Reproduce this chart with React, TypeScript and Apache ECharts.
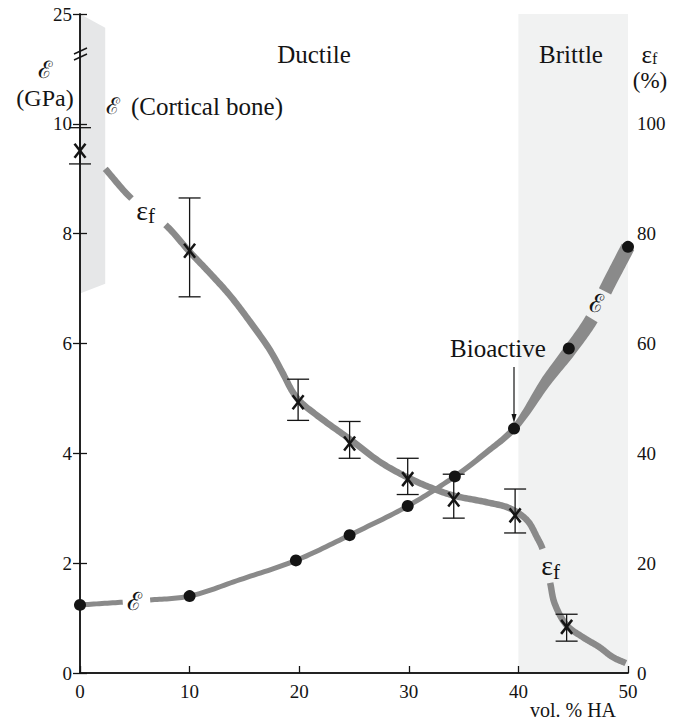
import React, { useEffect, useRef } from 'react';
import * as echarts from 'echarts';

// ---------- data ----------
// x axis: vol. % HA ; left axis: E (GPa, broken above 10 -> top shown as 25) ; right axis: eps_f (%)
const xTickLabels = ['0', '10', '20', '30', '40', '50'];
const leftTopLabel = '25';

// E measurements (GPa)
const eDotX = [0, 10, 19.7, 24.6, 29.9, 34.2, 39.6, 44.6, 50];
const eDotY = [1.24, 1.4, 2.05, 2.51, 3.04, 3.58, 4.45, 5.91, 7.76];

// eps_f measurements (%) with error bars
const efX = [0, 10, 19.9, 24.6, 29.9, 34.1, 39.7, 44.4];
const efY = [95.1, 76.9, 49.3, 41.8, 35.3, 31.6, 28.7, 8.4];
const efHi = [99.3, 86.5, 53.5, 45.8, 39.1, 36.2, 33.5, 10.7];
const efLo = [92.7, 68.5, 46.0, 39.1, 32.5, 28.2, 25.5, 5.8];

// fitted eps_f curve (traced), split where labels interrupt it
const efCurve1 = [[2.3, 91.8], [4.7, 86.4]];
const efCurve2 = [
  [7.8, 81.6], [10, 76.7], [11.9, 72.7], [13.7, 68.7], [15.5, 64.0], [17.3, 58.9],
  [18.5, 54.6], [19.4, 51.2], [20.1, 49.4], [21.9, 46.5], [24.6, 42.6], [27.4, 38.4],
  [29.9, 35.6], [32.2, 33.6], [34.1, 32.3], [37.1, 31.1], [39.2, 30.0], [40.8, 27.8],
  [41.7, 24.7], [42.2, 22.6],
];
const efCurve3 = [[42.9, 16.4], [43.3, 12.7], [44.4, 8.7], [45.9, 6.5], [47.4, 4.7], [48.6, 2.9], [49.8, 1.8]];

// fitted E curve (traced), split where labels interrupt it
const eCurve1 = [[0, 1.24], [3.9, 1.29]];
const eCurve2 = [
  [6.4, 1.33], [10, 1.4], [14.6, 1.7], [19.7, 2.05], [24.6, 2.51], [29.9, 3.04], [34.2, 3.58],
  [37.1, 4.02], [39.6, 4.45], [42.6, 5.33], [44.6, 5.85], [46.7, 6.45],
];
const eCurve3 = [[47.9, 6.95], [50, 7.76]];

// cortical bone E range (axis units, top = 25 GPa on the broken axis)
const corticalBand = [[0, 12], [2.3, 11.75], [2.3, 7.09], [0, 6.91]];
// brittle region
const brittleRange = [40, 50];

// ---------- styles ----------
const SERIF = 'Liberation Serif';
const SCRIPT = 'DejaVu Serif';
const CURVE = '#8a8a8a';
const INK = '#141414';
const E_WIDTHS = [[34.2, 5], [39.6, 6.5], [42.6, 11], [44.6, 13], [50, 14]];
const EF_WIDTHS = [[0, 6.5], [50, 6.5]];

function widthAt(table: number[][], x: number) {
  if (x <= table[0][0]) return table[0][1];
  for (let i = 0; i < table.length - 1; i++) {
    if (x <= table[i + 1][0]) {
      const t = (x - table[i][0]) / (table[i + 1][0] - table[i][0]);
      return table[i][1] + t * (table[i + 1][1] - table[i][1]);
    }
  }
  return table[table.length - 1][1];
}

// centripetal Catmull-Rom between p1 and p2 (pixel space)
function crSeg(p0: number[], p1: number[], p2: number[], p3: number[], w1: number, w2: number, n: number) {
  const d = (a: number[], b: number[]) => Math.max(Math.pow(Math.hypot(b[0] - a[0], b[1] - a[1]), 0.5), 1e-4);
  const t0 = 0, t1 = t0 + d(p0, p1), t2 = t1 + d(p1, p2), t3 = t2 + d(p2, p3);
  const lerp = (a: number[], b: number[], ta: number, tb: number, t: number) => {
    const u = (t - ta) / (tb - ta);
    return [a[0] + (b[0] - a[0]) * u, a[1] + (b[1] - a[1]) * u];
  };
  const out: number[][] = [];
  for (let s = 0; s < n; s++) {
    const t = t1 + ((t2 - t1) * s) / n;
    const A1 = lerp(p0, p1, t0, t1, t), A2 = lerp(p1, p2, t1, t2, t), A3 = lerp(p2, p3, t2, t3, t);
    const B1 = lerp(A1, A2, t0, t2, t), B2 = lerp(A2, A3, t1, t3, t);
    const C = lerp(B1, B2, t1, t2, t);
    out.push([C[0], C[1], w1 + ((w2 - w1) * s) / n]);
  }
  return out;
}

function smoothParts(px: number[][], ws: number[], ranges: number[][]) {
  const n = px.length;
  const get = (i: number) => {
    if (i < 0) return [2 * px[0][0] - px[1][0], 2 * px[0][1] - px[1][1]];
    if (i >= n) return [2 * px[n - 1][0] - px[n - 2][0], 2 * px[n - 1][1] - px[n - 2][1]];
    return px[i];
  };
  return ranges.map(([from, to]) => {
    let out: number[][] = [];
    for (let i = from; i < to; i++) out = out.concat(crSeg(get(i - 1), px[i], px[i + 1], get(i + 2), ws[i], ws[i + 1], 16));
    out.push([px[to][0], px[to][1], ws[to]]);
    return out;
  });
}

function ribbon(pts: number[][]) {
  const left: number[][] = [];
  const right: number[][] = [];
  for (let k = 0; k < pts.length; k++) {
    const a = pts[Math.max(k - 1, 0)], b = pts[Math.min(k + 1, pts.length - 1)];
    let dx = b[0] - a[0], dy = b[1] - a[1];
    const len = Math.hypot(dx, dy) || 1;
    dx /= len; dy /= len;
    const nx = -dy, ny = dx, h = pts[k][2] / 2;
    left.push([pts[k][0] + nx * h, pts[k][1] + ny * h]);
    right.push([pts[k][0] - nx * h, pts[k][1] - ny * h]);
  }
  return left.concat(right.reverse());
}

function curveSeries(parts: number[][][], yAxisIndex: number, widths: number[][]) {
  return {
    type: 'custom', silent: true, yAxisIndex,
    data: [parts[0][0]],
    renderItem: (_p: any, api: any) => {
      const all: number[][] = [];
      const ranges: number[][] = [];
      parts.forEach((part) => {
        ranges.push([all.length, all.length + part.length - 1]);
        part.forEach((p) => all.push(p));
      });
      const px = all.map((p) => api.coord(p));
      const ws = all.map((p) => widthAt(widths, p[0]));
      return {
        type: 'group',
        children: smoothParts(px, ws, ranges).map((pts) => ({
          type: 'polygon',
          shape: { points: ribbon(pts) },
          style: { fill: CURVE },
        })),
      };
    },
  };
}

export default function App() {
  const ref = useRef<HTMLDivElement>(null);

  useEffect(() => {
    if (!ref.current) return;
    const chart = echarts.init(ref.current, undefined, { renderer: 'svg' });

    const axisLabel = { fontFamily: SERIF, fontSize: 19, color: INK };
    const txt = (x: number, y: number, text: string, size: number, family = SERIF, align = 'center') => ({
      type: 'text', x, y, z: 100,
      style: { text, fontFamily: family, fontSize: size, fill: INK, align, verticalAlign: 'middle' },
    });

    const option: any = {
      animation: false,
      textStyle: { fontFamily: SERIF },
      grid: { left: 80, right: 51, top: 14, bottom: 48 },
      xAxis: [
        {
          type: 'value', min: 0, max: 50, interval: 10, z: 6,
          axisLine: { show: true, lineStyle: { color: INK, width: 1.5 } },
          axisTick: { show: true, inside: true, length: 7, lineStyle: { color: INK, width: 1.3 } },
          axisLabel: { ...axisLabel, margin: 9, formatter: (v: number) => xTickLabels[Math.round(v / 10)] ?? '' },
          splitLine: { show: false },
        },
        {
          type: 'value', position: 'top', min: 0, max: 50, z: 6,
          axisLine: { show: true, lineStyle: { color: INK, width: 1.5 } },
          axisTick: { show: false }, axisLabel: { show: false }, splitLine: { show: false },
        },
      ],
      yAxis: [
        {
          type: 'value', min: 0, max: 12, interval: 2, z: 6,
          axisLine: { show: true, lineStyle: { color: INK, width: 1.5 } },
          axisTick: { show: true, inside: true, length: 7, lineStyle: { color: INK, width: 1.3 } },
          axisLabel: { ...axisLabel, margin: 8, formatter: (v: number) => (v === 12 ? leftTopLabel : String(v)) },
          splitLine: { show: false },
        },
        {
          type: 'value', min: 0, max: 120, interval: 20, z: 6, position: 'right',
          axisLine: { show: true, lineStyle: { color: INK, width: 1.5 } },
          axisTick: { show: true, inside: true, length: 7, lineStyle: { color: INK, width: 1.3 } },
          axisLabel: { ...axisLabel, margin: 9, formatter: (v: number) => (v === 120 ? '' : String(v)) },
          splitLine: { show: false },
        },
      ],
      series: [
        {
          type: 'line', data: [], silent: true, z: 1,
          markArea: {
            silent: true,
            itemStyle: { color: '#f1f2f2' },
            data: [[{ xAxis: brittleRange[0] }, { xAxis: brittleRange[1] }]],
          },
        },
        {
          type: 'custom', silent: true, xAxisIndex: 0, yAxisIndex: 0, z: 1,
          data: [corticalBand[0]],
          renderItem: (_p: any, api: any) => ({
            type: 'polygon',
            shape: { points: corticalBand.map((p) => api.coord(p)) },
            style: { fill: '#e6e7e8' },
          }),
        },
        curveSeries([efCurve1, efCurve2, efCurve3], 1, EF_WIDTHS),
        curveSeries([eCurve1, eCurve2, eCurve3], 0, E_WIDTHS),
        {
          type: 'custom', silent: true, yAxisIndex: 1,
          encode: { x: 0, y: [1, 2, 3] },
          data: efX.map((x, i) => [x, efY[i], efLo[i], efHi[i]]),
          renderItem: (_p: any, api: any) => {
            const x = api.value(0);
            const c = api.coord([x, api.value(1)]);
            const lo = api.coord([x, api.value(2)]);
            const hi = api.coord([x, api.value(3)]);
            const cap = 11, xs = 5.5, ys = 7;
            const s = { stroke: INK, lineWidth: 1.3 };
            const sx = { stroke: INK, lineWidth: 2.5 };
            return {
              type: 'group',
              children: [
                { type: 'line', shape: { x1: c[0], y1: hi[1], x2: c[0], y2: lo[1] }, style: s },
                { type: 'line', shape: { x1: c[0] - cap, y1: hi[1], x2: c[0] + cap, y2: hi[1] }, style: s },
                { type: 'line', shape: { x1: c[0] - cap, y1: lo[1], x2: c[0] + cap, y2: lo[1] }, style: s },
                { type: 'line', shape: { x1: c[0] - xs, y1: c[1] - ys, x2: c[0] + xs, y2: c[1] + ys }, style: sx },
                { type: 'line', shape: { x1: c[0] - xs, y1: c[1] + ys, x2: c[0] + xs, y2: c[1] - ys }, style: sx },
              ],
            };
          },
        },
        {
          type: 'scatter', yAxisIndex: 0, silent: true, clip: false,
          data: eDotX.map((x, i) => [x, eDotY[i]]),
          symbol: 'circle', symbolSize: 12,
          itemStyle: { color: INK, opacity: 1 },
        },
      ],
      graphic: [
        // axis break marks
        { type: 'line', z: 100, shape: { x1: 74, y1: 54, x2: 87, y2: 48 }, style: { stroke: INK, lineWidth: 1.4 } },
        { type: 'line', z: 100, shape: { x1: 74, y1: 60, x2: 87, y2: 54 }, style: { stroke: INK, lineWidth: 1.4 } },
        // axis names
        txt(45, 70, 'ℰ', 24, SCRIPT),
        txt(45, 98, '(GPa)', 24),
        txt(652, 54, 'ε', 25, SERIF, 'right'),
        txt(652, 58, 'f', 16, SERIF, 'left'),
        txt(650, 80, '(%)', 23),
        txt(573, 710, 'vol. % HA', 20),
        // region labels
        txt(314, 54, 'Ductile', 25),
        txt(571, 54, 'Brittle', 25),
        txt(106, 106, 'ℰ', 23, SCRIPT, 'left'),
        txt(131, 106, '(Cortical bone)', 25, SERIF, 'left'),
        txt(498, 348, 'Bioactive', 25),
        { type: 'line', z: 100, shape: { x1: 514, y1: 367, x2: 514, y2: 418 }, style: { stroke: INK, lineWidth: 1.2 } },
        { type: 'polygon', z: 100, shape: { points: [[511.5, 414], [516.5, 414], [514, 423]] }, style: { fill: INK } },
        // curve labels
        txt(148, 210, 'ε', 28, SERIF, 'right'),
        txt(148, 216, 'f', 21, SERIF, 'left'),
        txt(553, 565, 'ε', 28, SERIF, 'right'),
        txt(553, 572, 'f', 21, SERIF, 'left'),
        txt(134, 601, 'ℰ', 25, SCRIPT),
        txt(596, 303, 'ℰ', 25, SCRIPT),
      ],
    };

    chart.setOption(option);
    return () => chart.dispose();
  }, []);

  return <div ref={ref} style={{ position: 'absolute', left: 0, top: 0, width: 679, height: 721 }} />;
}
